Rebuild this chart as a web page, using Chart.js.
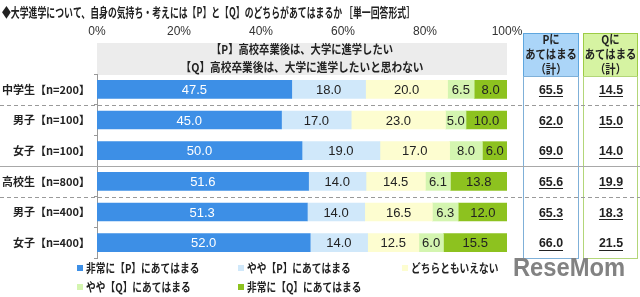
<!DOCTYPE html>
<html>
<head>
<meta charset="utf-8">
<script src="https://cdn.jsdelivr.net/npm/chart.js@4"></script>
<style>
  html, body { margin: 0; padding: 0; background: #fff; }
  #wrap { position: relative; width: 640px; height: 297px; }
</style>
</head>
<body>
<div id="wrap"><canvas id="chart" width="640" height="297"></canvas></div>
<script>
// Data
const categories = ["中学生【n=200】", "男子【n=100】", "女子【n=100】", "高校生【n=800】", "男子【n=400】", "女子【n=400】"];
const seriesNames = ["非常に【P】にあてはまる", "やや【P】にあてはまる", "どちらともいえない", "やや【Q】にあてはまる", "非常に【Q】にあてはまる"];
const veryP = [47.5, 45.0, 50.0, 51.6, 51.3, 52.0];
const someP = [18.0, 17.0, 19.0, 14.0, 14.0, 14.0];
const neither = [20.0, 23.0, 17.0, 14.5, 16.5, 12.5];
const someQ = [6.5, 5.0, 8.0, 6.1, 6.3, 6.0];
const veryQ = [8.0, 10.0, 6.0, 13.8, 12.0, 15.5];
const pTotal = [65.5, 62.0, 69.0, 65.6, 65.3, 66.0];
const qTotal = [14.5, 15.0, 14.0, 19.9, 18.3, 21.5];
const xTicks = [0, 20, 40, 60, 80, 100];

const titleText = "◆大学進学について、自身の気持ち・考えには【P】と【Q】のどちらがあてはまるか ［単一回答形式］";
const headerP = "【P】高校卒業後は、大学に進学したい";
const headerQ = "【Q】高校卒業後は、大学に進学したいと思わない";
const colHeadP = ["Pに", "あてはまる", "（計）"];
const colHeadQ = ["Qに", "あてはまる", "（計）"];

const colors = ["#3d8fe6", "#d0e8fa", "#fdfdd0", "#d4f5b0", "#8dc21f"];
const JP = '"Noto Sans CJK JP", sans-serif';
const NUM = '"Liberation Sans", Arial, sans-serif';

// Draw text with optional horizontal squeeze
function drawText(ctx, s, x, y, font, color, align, sx) {
  ctx.save();
  ctx.font = font;
  ctx.fillStyle = color;
  ctx.textBaseline = "middle";
  ctx.textAlign = align || "left";
  ctx.translate(x, y);
  ctx.scale(sx || 1, 1);
  ctx.fillText(s, 0, 0);
  ctx.restore();
}

// Squeeze text to fit a given width
function fitText(ctx, s, x, y, font, color, align, width) {
  ctx.save();
  ctx.font = font;
  const w = ctx.measureText(s).width;
  ctx.restore();
  drawText(ctx, s, x, y, font, color, align, Math.min(1, width / w));
}

function hLine(ctx, x1, x2, y, color, dash) {
  ctx.save();
  ctx.strokeStyle = color;
  ctx.lineWidth = 1;
  ctx.setLineDash(dash || []);
  ctx.beginPath();
  ctx.moveTo(x1, Math.round(y) + 0.5);
  ctx.lineTo(x2, Math.round(y) + 0.5);
  ctx.stroke();
  ctx.restore();
}

const decor = {
  id: "decor",
  beforeDraw(chart) {
    const ctx = chart.ctx;
    const area = chart.chartArea;

    // Title
    fitText(ctx, titleText, 2, 12, "bold 13px " + JP, "#222", "left", 413);

    // Gray header box above the bars
    ctx.fillStyle = "#ececec";
    ctx.fillRect(area.left, 43, area.right - area.left, area.top + 1 - 43);
    const mid = (area.left + area.right) / 2;
    fitText(ctx, headerP, mid, 49, "bold 12px " + JP, "#222", "center", 182);
    fitText(ctx, headerQ, mid, 67, "bold 12px " + JP, "#222", "center", 243);

    // Right-hand total columns
    const cols = [
      { x: 523, w: 56, fill: "#abd5f8", border: "#5ea6de", body: "#7fb0d8", head: colHeadP },
      { x: 583, w: 55, fill: "#d6f3a2", border: "#9dcc45", body: "#b3d679", head: colHeadQ }
    ];
    cols.forEach(c => {
      ctx.fillStyle = c.fill;
      ctx.fillRect(c.x, 33, c.w, 43);
      ctx.strokeStyle = c.border;
      ctx.lineWidth = 1;
      ctx.strokeRect(c.x + 0.5, 33.5, c.w - 1, 43);
      ctx.strokeStyle = c.body;
      ctx.strokeRect(c.x + 0.5, 76.5, c.w - 1, area.bottom - 76);
      c.head.forEach((t, i) => {
        drawText(ctx, t, c.x + c.w / 2, 39 + i * 15, "bold 12px " + JP, "#222", "center", 0.86);
      });
    });

    // Legend
    const legendPos = [[77, 268], [238, 268], [402, 268], [77, 287], [238, 287]];
    seriesNames.forEach((name, i) => {
      const [lx, ly] = legendPos[i];
      ctx.fillStyle = colors[i];
      ctx.fillRect(lx, ly - 3, 6, 6);
      drawText(ctx, name, lx + 9, ly, "bold 12px " + JP, "#222", "left", 0.81);
    });

    // Watermark
    drawText(ctx, "ReseMom", 569, 269, "bold 25px " + NUM, "#828282", "center", 0.95);
  },
  beforeDatasetsDraw(chart) {
    const ctx = chart.ctx;
    const y = chart.scales.y;
    const between = i => (y.getPixelForValue(i) + y.getPixelForValue(i + 1)) / 2;
    hLine(ctx, 0, 640, between(0), "#9a9a9a", [4, 3]);
    hLine(ctx, 0, 640, between(2), "#a8a8a8");
    hLine(ctx, 0, 640, between(3), "#9a9a9a", [4, 3]);
  },
  afterDatasetsDraw(chart) {
    const ctx = chart.ctx;
    chart.data.datasets.forEach((ds, di) => {
      const meta = chart.getDatasetMeta(di);
      meta.data.forEach((bar, i) => {
        const cx = (bar.x + bar.base) / 2;
        drawText(ctx, ds.data[i].toFixed(1), cx, bar.y + 1, "13px " + NUM, di === 0 ? "#fff" : "#222", "center");
      });
    });

    // Total values in the right columns
    const y = chart.scales.y;
    [[pTotal, 551], [qTotal, 611]].forEach(([vals, cx]) => {
      vals.forEach((v, i) => {
        const py = y.getPixelForValue(i) + 1;
        const s = v.toFixed(1);
        drawText(ctx, s, cx, py, "bold 13px " + NUM, "#222", "center", 0.95);
        ctx.font = "bold 13px " + NUM;
        const w = ctx.measureText(s).width * 0.95;
        hLine(ctx, cx - w / 2, cx + w / 2, py + 6, "#222");
      });
    });
  }
};

const seriesData = [veryP, someP, neither, someQ, veryQ];

new Chart(document.getElementById("chart").getContext("2d"), {
  type: "bar",
  data: {
    labels: categories,
    datasets: seriesData.map((d, i) => ({
      label: seriesNames[i],
      data: d,
      backgroundColor: colors[i],
      borderWidth: 0,
      barThickness: 18
    }))
  },
  options: {
    indexAxis: "y",
    responsive: false,
    animation: false,
    layout: { padding: { left: 0, right: 133, top: 0, bottom: 39 } },
    plugins: {
      legend: { display: false },
      title: { display: false },
      tooltip: { enabled: false }
    },
    scales: {
      x: {
        position: "top",
        stacked: true,
        min: 0,
        max: 100,
        afterBuildTicks: s => { s.ticks = xTicks.map(v => ({ value: v })); },
        afterFit: s => { s.height = 74; },
        ticks: {
          callback: v => v + "%",
          padding: 35,
          color: "#333",
          font: { family: NUM, size: 12 },
          maxRotation: 0
        },
        grid: { display: false, drawTicks: false },
        border: { display: false }
      },
      y: {
        stacked: true,
        afterFit: s => { s.width = 97; },
        ticks: {
          padding: 4,
          color: "#222",
          font: { family: JP, size: 11, weight: "bold" }
        },
        grid: { display: true, drawOnChartArea: false, drawTicks: true, tickLength: 3, color: "#999" },
        border: { display: true, color: "#999" }
      }
    }
  },
  plugins: [decor]
});
</script>
</body>
</html>
